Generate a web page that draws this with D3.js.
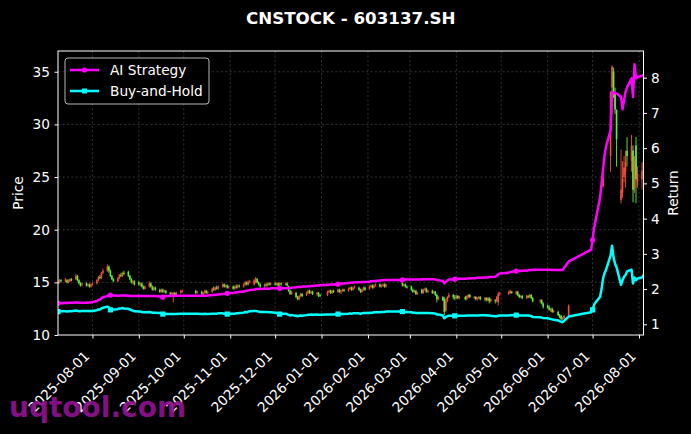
<!DOCTYPE html>
<html><head><meta charset="utf-8">
<script src="https://cdn.jsdelivr.net/npm/d3@7"></script>
<style>
body{margin:0;background:#000;}
svg{display:block;font-family:"DejaVu Sans",sans-serif;}
</style>
</head><body>
<svg id="chart" width="691" height="434"></svg>
<script>
// ---------------- DATA ----------------
const title = "CNSTOCK - 603137.SH";
const startDate = "2025-07-09";
const endDate = "2026-08-04";
// weekday closures (holidays, suspension, data gap)
const closedRanges = [
  ["2025-10-01","2025-10-08"],
  ["2026-01-01","2026-01-02"],
  ["2026-02-16","2026-02-23"],
  ["2026-04-06","2026-04-06"],
  ["2026-05-01","2026-05-05"],
  ["2026-05-25","2026-05-26"],
  ["2026-06-16","2026-06-29"]
];
const xTickLabels = ["2025-08-01","2025-09-01","2025-10-01","2025-11-01","2025-12-01","2026-01-01","2026-02-01","2026-03-01","2026-04-01","2026-05-01","2026-06-01","2026-07-01","2026-08-01"];
const priceTicks = [10,15,20,25,30,35];
const returnTicks = [1,2,3,4,5,6,7,8];
const seriesNames = ["AI Strategy","Buy-and-Hold"];

const open = [
 14.9,15.0,15.2,15.1,15.2,15.0,15.1,15.3,15.3,15.6,15.2,14.9,14.8,14.9,14.7,14.8,14.6,
 14.8,14.9,15.2,15.5,15.4,15.9,16.1,16.5,16.1,15.6,15.3,15.1,15.4,15.7,15.6,15.9,16.0,15.6,15.3,15.0,15.1,
 15.0,14.8,14.9,14.6,14.4,14.6,14.9,14.6,14.3,14.5,14.3,14.1,14.3,14.1,14.2,14.0,13.9,13.8,14.0,13.8,14.0,14.1,
 14.2,14.0,14.1,13.9,14.0,14.2,14.0,14.1,14.4,14.3,14.5,14.4,14.6,14.8,14.6,14.7,14.5,
 14.6,14.4,14.6,14.5,14.7,14.6,14.8,15.0,14.8,15.0,14.8,15.0,15.3,15.0,14.8,14.6,14.8,14.7,14.9,14.8,
 14.9,14.8,14.9,14.7,14.9,14.8,14.9,14.6,14.2,13.9,14.0,13.6,13.4,13.7,13.9,13.8,14.0,14.2,14.0,14.1,13.9,14.0,13.8,
 13.8,14.1,14.2,14.0,14.2,14.1,14.3,14.1,14.2,14.3,14.2,14.4,14.5,14.3,14.5,14.5,14.3,14.1,14.3,14.5,
 14.4,14.6,14.7,14.5,14.7,14.8,14.6,14.7,14.8,14.6,14.9,14.7,14.8,14.6,
 14.6,14.3,14.1,14.2,13.9,14.3,14.0,14.3,14.4,14.1,14.2,14.0,14.1,13.8,13.4,13.6,13.4,12.3,13.2,13.6,13.8,13.6,
 13.5,13.7,13.5,13.6,13.4,13.6,13.8,13.5,13.6,13.4,13.5,13.6,13.4,13.5,13.3,13.5,13.2,13.3,13.2,13.1,13.9,
 13.9,14.0,14.1,13.9,14.1,13.8,13.6,13.7,13.5,13.7,13.6,13.8,13.5,13.2,13.3,13.0,
 12.8,12.6,12.4,12.5,12.2,12.2,11.9,11.8,11.5,11.6,11.9,14.1,
 15.5,17.0,18.7,20.6,22.6,24.1,27.4,30.1,27.0,33.5,35.0,33.0,31.4,22.8,23.5,25.0,25.5,27.5,26.5,27.5,24.0,28.0,24.5,
 24.8,25.3
];
const high = [
 15.2,15.3,15.3,15.4,15.3,15.3,15.4,15.4,15.8,15.7,15.3,15.0,15.0,15.0,14.9,14.9,14.9,
 15.0,15.3,15.6,15.7,16.0,16.3,16.7,16.6,16.2,15.7,15.4,15.5,15.8,15.9,16.0,16.1,16.1,15.7,15.4,15.2,15.2,
 15.1,15.0,15.0,14.7,14.7,15.1,15.0,14.7,14.6,14.6,14.4,14.4,14.4,14.3,14.3,14.1,14.1,14.1,14.1,14.1,14.3,14.3,
 14.3,14.2,14.2,14.1,14.3,14.3,14.2,14.5,14.6,14.6,14.7,14.7,14.9,14.9,14.8,14.8,14.7,
 14.7,14.7,14.8,14.8,14.8,14.9,15.1,15.1,15.2,15.2,15.3,15.5,15.4,15.1,14.9,14.9,14.9,15.0,15.0,15.0,
 15.0,15.0,15.0,15.0,15.0,15.0,15.0,14.7,14.3,14.2,14.1,13.7,13.8,14.0,14.0,14.1,14.3,14.3,14.2,14.2,14.1,14.1,13.9,
 14.2,14.3,14.3,14.3,14.3,14.4,14.4,14.3,14.4,14.4,14.5,14.6,14.6,14.6,14.7,14.6,14.4,14.4,14.6,14.6,
 14.7,14.8,14.8,14.8,14.9,14.9,14.8,14.9,14.9,14.9,15.0,14.9,14.9,14.7,
 14.7,14.4,14.3,14.3,14.1,14.4,14.4,14.5,14.5,14.3,14.3,14.2,14.2,13.9,13.7,13.7,13.6,13.5,13.7,14.0,13.9,13.8,
 13.8,13.8,13.7,13.7,13.8,13.9,13.9,13.7,13.7,13.6,13.7,13.7,13.6,13.6,13.6,13.6,13.5,13.4,13.7,14.1,14.1,
 14.2,14.3,14.2,14.2,14.2,13.9,13.8,13.8,13.8,13.8,13.9,13.9,13.6,13.4,13.4,13.1,
 12.9,12.8,12.6,12.6,12.4,12.3,12.0,11.9,11.7,11.9,12.9,14.1,
 15.5,17.0,18.7,20.6,22.6,25.4,27.4,30.1,33.1,35.6,35.4,33.5,31.4,27.6,26.5,27.0,27.5,28.8,29.0,28.0,27.0,28.8,26.0,
 26.4,27.0
];
const low = [
 14.8,14.9,15.0,15.0,14.9,14.9,15.0,15.1,15.2,15.1,14.8,14.6,14.6,14.6,14.6,14.5,14.5,
 14.7,14.8,15.1,15.3,15.3,15.8,16.0,15.9,15.5,15.2,15.0,15.0,15.3,15.5,15.5,15.7,15.5,15.2,14.9,14.8,14.7,
 14.7,14.6,14.5,14.3,14.3,14.5,14.5,14.2,14.2,14.2,14.0,14.0,14.0,14.0,13.9,13.8,13.8,13.1,13.6,13.7,13.9,14.0,
 13.9,13.9,13.8,13.8,13.9,13.9,13.9,14.0,14.2,14.2,14.3,14.3,14.5,14.5,14.5,14.4,14.4,
 14.3,14.3,14.4,14.4,14.5,14.5,14.7,14.7,14.7,14.9,14.7,14.9,14.9,14.7,14.5,14.5,14.6,14.6,14.7,14.7,
 14.7,14.7,14.6,14.6,14.7,14.7,14.6,14.1,13.8,13.8,13.5,13.3,13.3,13.6,13.6,13.7,13.9,13.9,13.9,13.8,13.7,13.6,13.6,
 13.7,14.0,13.9,13.9,14.0,14.0,14.0,13.9,14.1,14.1,14.1,14.3,14.2,14.2,14.4,14.2,14.0,14.0,14.2,14.2,
 14.3,14.5,14.4,14.4,14.6,14.5,14.5,14.6,14.5,14.5,14.6,14.6,14.5,14.4,
 14.2,14.0,14.0,13.8,13.8,13.9,13.9,14.2,14.0,14.0,13.9,13.9,13.7,13.1,13.3,13.2,11.9,12.2,13.1,13.5,13.4,13.3,
 13.4,13.4,13.4,13.3,13.3,13.5,13.5,13.4,13.3,13.3,13.4,13.3,13.2,13.2,13.2,13.0,13.1,13.0,13.1,12.8,13.7,
 13.8,13.9,13.9,13.8,13.7,13.5,13.5,13.4,13.4,13.5,13.5,13.4,13.1,13.0,12.9,12.5,
 12.5,12.3,12.2,12.1,12.1,11.8,11.6,11.4,11.4,11.5,11.8,14.1,
 15.5,17.0,18.7,20.6,22.6,24.0,27.4,30.1,25.5,31.0,32.5,31.0,26.0,22.5,23.0,24.5,24.0,26.0,25.5,22.6,23.5,22.5,24.0,
 23.8,24.8
];
const close = [
 15.1,15.2,15.1,15.3,15.0,15.2,15.3,15.2,15.6,15.2,14.9,14.7,14.9,14.7,14.8,14.6,14.8,
 14.9,15.2,15.5,15.4,15.9,16.1,16.5,16.1,15.6,15.3,15.1,15.4,15.7,15.6,15.9,15.8,15.6,15.3,15.0,15.1,14.8,
 14.8,14.9,14.6,14.4,14.6,14.9,14.6,14.3,14.5,14.3,14.1,14.3,14.1,14.2,14.0,13.9,14.0,14.0,13.8,14.0,14.2,14.2,
 14.0,14.1,13.9,14.0,14.2,14.0,14.1,14.4,14.3,14.5,14.4,14.6,14.8,14.6,14.7,14.5,14.6,
 14.4,14.6,14.5,14.7,14.6,14.8,15.0,14.8,15.0,15.1,15.2,15.4,15.0,14.8,14.6,14.8,14.7,14.9,14.8,14.9,
 14.8,14.9,14.7,14.9,14.8,14.9,14.7,14.2,13.9,14.1,13.6,13.4,13.7,13.9,13.7,14.0,14.2,14.0,14.1,13.9,14.0,13.8,13.7,
 14.1,14.2,14.0,14.2,14.1,14.3,14.1,14.2,14.3,14.2,14.4,14.5,14.3,14.5,14.6,14.3,14.1,14.3,14.5,14.3,
 14.6,14.7,14.5,14.7,14.8,14.6,14.7,14.8,14.6,14.8,14.7,14.8,14.6,14.5,
 14.3,14.1,14.2,13.9,14.0,14.0,14.3,14.4,14.1,14.2,14.0,14.1,13.8,13.4,13.6,13.3,12.2,13.2,13.6,13.8,13.6,13.5,
 13.7,13.5,13.6,13.4,13.7,13.8,13.6,13.6,13.4,13.5,13.6,13.4,13.5,13.3,13.5,13.2,13.4,13.2,13.6,13.9,14.0,
 14.1,14.2,14.0,14.1,13.8,13.6,13.7,13.5,13.7,13.6,13.8,13.5,13.2,13.3,13.0,12.7,
 12.6,12.4,12.5,12.2,12.3,11.9,11.7,11.5,11.6,11.8,12.8,14.1,
 15.5,17.0,18.7,20.6,22.6,24.9,27.4,30.1,33.1,35.5,33.0,31.4,28.6,23.8,24.8,25.9,26.4,27.0,28.0,23.8,26.5,24.8,25.3,
 25.6,26.4
];
const aiReturn = [
 1.60,1.60,1.60,1.61,1.60,1.61,1.61,1.61,1.62,1.62,1.61,1.61,1.61,1.61,1.62,1.62,1.62,
 1.63,1.66,1.70,1.70,1.74,1.77,1.80,1.83,1.83,1.82,1.82,1.81,1.81,1.82,1.82,1.82,1.81,1.81,1.80,1.80,1.80,
 1.80,1.80,1.80,1.80,1.80,1.80,1.80,1.80,1.80,1.80,1.79,1.79,1.77,1.79,1.80,1.80,1.81,1.81,1.81,1.81,1.81,1.81,
 1.81,1.81,1.81,1.81,1.81,1.81,1.82,1.83,1.83,1.84,1.84,1.85,1.86,1.86,1.87,1.88,1.89,
 1.89,1.90,1.90,1.91,1.92,1.93,1.94,1.95,1.96,1.97,1.98,2.00,2.00,2.00,2.00,2.01,2.01,2.01,2.01,2.02,
 2.02,2.02,2.01,2.02,2.02,2.02,2.02,2.02,2.03,2.04,2.05,2.06,2.06,2.06,2.07,2.07,2.08,2.08,2.09,2.09,2.10,2.10,2.11,
 2.12,2.12,2.13,2.13,2.13,2.14,2.14,2.15,2.16,2.16,2.17,2.18,2.18,2.18,2.19,2.19,2.19,2.20,2.20,2.20,
 2.21,2.22,2.22,2.23,2.23,2.24,2.25,2.25,2.26,2.26,2.26,2.26,2.27,2.27,
 2.27,2.27,2.27,2.27,2.27,2.27,2.28,2.28,2.28,2.28,2.28,2.28,2.27,2.26,2.25,2.23,2.16,2.20,2.24,2.27,2.28,2.28,
 2.28,2.29,2.29,2.29,2.30,2.30,2.31,2.31,2.31,2.32,2.32,2.32,2.33,2.33,2.33,2.34,2.34,2.35,2.38,2.42,2.44,
 2.46,2.48,2.49,2.51,2.51,2.51,2.52,2.52,2.53,2.53,2.54,2.54,2.55,2.55,2.55,2.55,
 2.55,2.55,2.55,2.54,2.54,2.54,2.54,2.54,2.54,2.60,2.78,3.12,
 3.39,3.75,3.95,4.60,5.00,5.40,5.80,6.05,6.50,7.60,7.58,7.56,7.55,7.45,7.10,7.35,7.60,7.72,7.98,7.45,8.38,7.98,8.02,
 8.05,8.08
];
const bhReturn = [
 1.36,1.36,1.37,1.37,1.36,1.37,1.37,1.37,1.39,1.38,1.37,1.37,1.38,1.38,1.38,1.37,1.38,
 1.38,1.40,1.42,1.42,1.45,1.47,1.50,1.48,1.41,1.41,1.42,1.43,1.45,1.45,1.46,1.45,1.44,1.42,1.40,1.39,1.37,
 1.36,1.36,1.35,1.34,1.34,1.35,1.34,1.33,1.33,1.33,1.32,1.31,1.29,1.29,1.29,1.29,1.29,1.29,1.29,1.29,1.30,1.30,
 1.30,1.30,1.29,1.29,1.30,1.29,1.29,1.30,1.30,1.30,1.30,1.31,1.31,1.30,1.30,1.29,1.30,
 1.30,1.30,1.31,1.31,1.32,1.33,1.35,1.34,1.36,1.37,1.38,1.38,1.37,1.36,1.35,1.35,1.35,1.35,1.34,1.34,
 1.33,1.32,1.30,1.29,1.30,1.30,1.29,1.27,1.25,1.26,1.24,1.23,1.24,1.25,1.24,1.26,1.27,1.27,1.28,1.27,1.28,1.27,1.27,
 1.28,1.28,1.28,1.28,1.28,1.29,1.29,1.29,1.29,1.29,1.30,1.31,1.30,1.31,1.31,1.31,1.30,1.31,1.32,1.32,
 1.32,1.33,1.33,1.34,1.34,1.34,1.35,1.35,1.35,1.36,1.36,1.36,1.35,1.35,
 1.34,1.33,1.33,1.32,1.32,1.32,1.32,1.32,1.32,1.32,1.31,1.31,1.30,1.28,1.28,1.25,1.17,1.21,1.23,1.24,1.24,1.24,
 1.24,1.24,1.24,1.24,1.25,1.25,1.25,1.25,1.25,1.25,1.25,1.26,1.26,1.26,1.25,1.25,1.24,1.23,1.23,1.24,1.25,
 1.25,1.26,1.26,1.26,1.26,1.25,1.25,1.25,1.25,1.25,1.24,1.23,1.21,1.20,1.19,1.18,
 1.17,1.16,1.15,1.14,1.13,1.11,1.09,1.07,1.06,1.10,1.22,1.34,
 1.41,1.55,1.62,1.78,2.00,2.30,2.45,2.55,2.95,3.23,2.90,2.72,2.62,2.12,2.25,2.35,2.40,2.50,2.55,2.16,2.33,2.25,2.30,
 2.33,2.40
];

// ---------------- BUILD ----------------
const parse = d3.timeParse("%Y-%m-%d");
const closed = new Set();
closedRanges.forEach(([a,b]) => {
  d3.timeDay.range(parse(a), d3.timeDay.offset(parse(b),1)).forEach(d => closed.add(+d));
});
const dates = d3.timeDay.range(parse(startDate), d3.timeDay.offset(parse(endDate),1))
  .filter(d => d.getDay() !== 0 && d.getDay() !== 6 && !closed.has(+d));
[open,high,low,close,aiReturn,bhReturn].forEach((a,k) => {
  if (a.length !== dates.length) throw new Error("length mismatch series " + k + ": " + a.length + " vs " + dates.length);
});

const W = 691, H = 434;
const L = 58, R = 643.5, T = 51, B = 335;
const svg = d3.select("#chart");
svg.append("rect").attr("width",W).attr("height",H).attr("fill","#000");

const x = d3.scaleTime().domain([dates[0], dates[dates.length-1]]).range([L, R]);
const yP = d3.scaleLinear().domain([10, 36.97]).range([B, T]);
const yR = d3.scaleLinear().domain([0.696, 8.758]).range([B, T]);
const xTicks = xTickLabels.map(parse);

svg.append("defs").append("clipPath").attr("id","clip")
  .append("rect").attr("x",L).attr("y",T).attr("width",R-L).attr("height",B-T);

// grid
const grid = svg.append("g").attr("stroke","#6a6a6a").attr("stroke-width",0.6)
  .attr("stroke-dasharray","2.2,2.2").attr("opacity",0.75);
grid.selectAll("line.v").data(xTicks).join("line")
  .attr("x1",d=>x(d)).attr("x2",d=>x(d)).attr("y1",T).attr("y2",B);
grid.selectAll("line.h").data(priceTicks.filter(t=>t>10)).join("line")
  .attr("x1",L).attr("x2",R).attr("y1",d=>yP(d)).attr("y2",d=>yP(d));

// candles
const plot = svg.append("g").attr("clip-path","url(#clip)");
const idx = d3.range(dates.length);
const upC = "#f2503c", dnC = "#5cf23c";
const cand = plot.append("g");
cand.selectAll("line").data(idx).join("line")
  .attr("x1",i=>x(dates[i])).attr("x2",i=>x(dates[i]))
  .attr("y1",i=>yP(high[i])).attr("y2",i=>yP(low[i]))
  .attr("stroke",i=>close[i]>=open[i]?upC:dnC).attr("stroke-width",0.9);
cand.selectAll("rect").data(idx).join("rect")
  .attr("x",i=>x(dates[i])-0.8).attr("width",1.6)
  .attr("y",i=>yP(Math.max(open[i],close[i])))
  .attr("height",i=>Math.abs(yP(open[i])-yP(close[i])))
  .attr("fill",i=>close[i]>=open[i]?upC:dnC);

// lines
const colors = ["#ff00ff","#00ffff"];
const series = [aiReturn, bhReturn];
const markEvery = 25;
series.forEach((s,k) => {
  const line = d3.line().x(i=>x(dates[i])).y(i=>yR(s[i]));
  plot.append("path").datum(idx).attr("d",line).attr("fill","none")
    .attr("stroke",colors[k]).attr("stroke-width",2.5).attr("stroke-linejoin","round");
  const mk = idx.filter(i => i % markEvery === 0);
  if (k === 0) {
    plot.selectAll("circle.m"+k).data(mk).join("circle")
      .attr("cx",i=>x(dates[i])).attr("cy",i=>yR(s[i])).attr("r",2.6).attr("fill",colors[k]);
  } else {
    plot.selectAll("rect.m"+k).data(mk).join("rect")
      .attr("x",i=>x(dates[i])-2.6).attr("y",i=>yR(s[i])-2.6).attr("width",5.2).attr("height",5.2).attr("fill",colors[k]);
  }
});

// spines
svg.append("rect").attr("x",L).attr("y",T).attr("width",R-L).attr("height",B-T)
  .attr("fill","none").attr("stroke","#fff").attr("stroke-width",1);

// axes
const fs = 13.7;
const ax = svg.append("g").attr("transform",`translate(0,${B})`)
  .call(d3.axisBottom(x).tickValues(xTicks).tickFormat(d3.timeFormat("%Y-%m-%d")).tickSize(3.5).tickSizeOuter(0));
ax.select(".domain").remove();
ax.selectAll(".tick line").attr("stroke","#fff");
ax.selectAll(".tick text").attr("fill","#fff").attr("font-size",fs)
  .attr("text-anchor","end").attr("dy",0).attr("y",0)
  .attr("transform","translate(-2.5,22) rotate(-45)");

const ayl = svg.append("g").attr("transform",`translate(${L},0)`)
  .call(d3.axisLeft(yP).tickValues(priceTicks).tickSize(3.5).tickPadding(4.5).tickSizeOuter(0));
ayl.select(".domain").remove();
ayl.selectAll(".tick line").attr("stroke","#fff");
ayl.selectAll(".tick text").attr("fill","#fff").attr("font-size",fs);

const ayr = svg.append("g").attr("transform",`translate(${R},0)`)
  .call(d3.axisRight(yR).tickValues(returnTicks).tickSize(3.5).tickPadding(4).tickSizeOuter(0));
ayr.select(".domain").remove();
ayr.selectAll(".tick line").attr("stroke","#fff");
ayr.selectAll(".tick text").attr("fill","#fff").attr("font-size",fs);
svg.selectAll(".tick text").attr("font-family","DejaVu Sans");

// labels
svg.append("text").attr("x",(L+R)/2).attr("y",24).attr("text-anchor","middle")
  .attr("fill","#fff").attr("font-size",16.7).attr("font-weight","bold").text(title);
svg.append("text").attr("transform",`translate(22.5,${(T+B)/2}) rotate(-90)`).attr("text-anchor","middle")
  .attr("fill","#fff").attr("font-size",fs).text("Price");
svg.append("text").attr("transform",`translate(678,${(T+B)/2}) rotate(-90)`).attr("text-anchor","middle")
  .attr("fill","#fff").attr("font-size",fs).text("Return");

// legend
const lg = svg.append("g");
lg.append("rect").attr("x",65).attr("y",58).attr("width",144).attr("height",46).attr("rx",3)
  .attr("fill","#000").attr("fill-opacity",0.8).attr("stroke","#cccccc").attr("stroke-width",0.9);
seriesNames.forEach((n,k) => {
  const yy = 70 + k*21;
  lg.append("line").attr("x1",70).attr("x2",99).attr("y1",yy).attr("y2",yy)
    .attr("stroke",colors[k]).attr("stroke-width",2.5);
  if (k===0) lg.append("circle").attr("cx",84.5).attr("cy",yy).attr("r",2.6).attr("fill",colors[k]);
  else lg.append("rect").attr("x",82).attr("y",yy-2.5).attr("width",5).attr("height",5).attr("fill",colors[k]);
  lg.append("text").attr("x",110).attr("y",yy+5).attr("fill","#fff").attr("font-size",fs).text(n);
});

// watermark
svg.append("text").attr("x",9).attr("y",417).attr("fill","#8e128e").attr("fill-opacity",0.95)
  .attr("font-size",28).attr("font-weight","bold").text("uqtool.com");
</script>
</body></html>
